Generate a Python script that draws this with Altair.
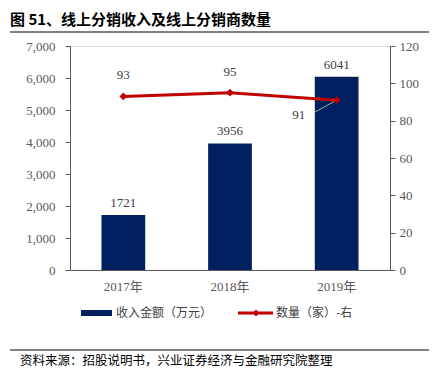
import altair as alt
import pandas as pd

years = ["2017年", "2018年", "2019年"]
revenue = [1721, 3956, 6041]
dealers = [93, 95, 91]

df = pd.DataFrame({"year": years, "revenue": revenue, "dealers": dealers})
one = pd.DataFrame({"k": [0]})

SERIF = "Liberation Serif, Noto Sans CJK SC"
NAVY = "#002060"
RED = "#C00000"
GREY = "#595959"

x = alt.X("year:N", sort=years, title=None,
          scale=alt.Scale(paddingInner=0.59, paddingOuter=0.295),
          axis=alt.Axis(labelAngle=0, ticks=False, domainColor="#595959",
                        labelFont=SERIF, labelFontSize=13, labelColor=GREY,
                        labelPadding=10))
xs = alt.X("year:N", sort=years)

yl_scale = alt.Scale(domain=[0, 7000])
yl = alt.Y("revenue:Q", title=None, scale=yl_scale,
           axis=alt.Axis(values=list(range(0, 7001, 1000)), format=",.0f",
                         grid=False, tickColor="#595959", domainColor="#595959",
                         tickSize=5, labelFont=SERIF, labelFontSize=13,
                         labelColor=GREY, labelPadding=10))

bars = alt.Chart(df).mark_bar(color=NAVY).encode(x=x, y=yl)
bar_lbl = alt.Chart(df).mark_text(dy=-12, font=SERIF, fontSize=13, color="#404040").encode(
    x=xs, y=alt.Y("revenue:Q", scale=yl_scale, axis=None), text="revenue:Q")

yr_scale = alt.Scale(domain=[0, 120])
yr = alt.Y("dealers:Q", title=None, scale=yr_scale,
           axis=alt.Axis(orient="right", values=list(range(0, 121, 20)), grid=False,
                         tickColor="#595959", domainColor="#595959", tickSize=5,
                         labelFont=SERIF, labelFontSize=13, labelColor=GREY,
                         labelPadding=4))
yr_na = alt.Y("dealers:Q", scale=yr_scale, axis=None)
line = alt.Chart(df).mark_line(color=RED, strokeWidth=3,
                               point=alt.OverlayMarkDef(shape="diamond", size=60, color=RED, filled=True)
                               ).encode(x=xs, y=yr)
lbl_top = alt.Chart(df).transform_filter(alt.datum.year != "2019年").mark_text(
    dy=-21, font=SERIF, fontSize=13, color="#404040").encode(x=xs, y=yr_na, text="dealers:Q")
lbl_91 = alt.Chart(df).transform_filter(alt.datum.year == "2019年").mark_text(
    dx=-38, dy=15, font=SERIF, fontSize=13, color="#404040").encode(x=xs, y=yr_na, text="dealers:Q")
leader = alt.Chart(df).transform_filter(alt.datum.year == "2019年").mark_rule(
    color="#A6A6A6", strokeWidth=1).encode(
    x=xs, y=yr_na, x2=alt.value(245), y2=alt.value(66))

# decorations: title, rules, legend, source
title = alt.Chart(one).mark_text(align="left", baseline="alphabetic", font="Noto Sans CJK SC",
                                 fontSize=15, fontWeight="bold", color="#000000").encode(
    x=alt.value(-60), y=alt.value(-21), text=alt.value("图 51、线上分销收入及线上分销商数量"))
title_rule = alt.Chart(one).mark_rule(color="#808080", strokeWidth=2).encode(
    x=alt.value(-60), x2=alt.value(372), y=alt.value(-14))
src_rule = alt.Chart(one).mark_rule(color="#808080", strokeWidth=2).encode(
    x=alt.value(-60), x2=alt.value(372), y=alt.value(304))
source = alt.Chart(one).mark_text(align="left", baseline="middle", font="Noto Sans CJK SC",
                                  fontSize=12.5, color="#000000").encode(
    x=alt.value(-50), y=alt.value(315), text=alt.value("资料来源：招股说明书，兴业证券经济与金融研究院整理"))
leg1 = alt.Chart(one).mark_rule(color=NAVY, strokeWidth=6).encode(
    x=alt.value(11), x2=alt.value(42), y=alt.value(267))
leg1t = alt.Chart(one).mark_text(align="left", baseline="middle", font="Noto Sans CJK SC",
                                 fontSize=12, color="#404040").encode(
    x=alt.value(46), y=alt.value(267), text=alt.value("收入金额（万元）"))
leg2 = alt.Chart(one).mark_rule(color=RED, strokeWidth=3).encode(
    x=alt.value(168), x2=alt.value(203), y=alt.value(267))
leg2p = alt.Chart(one).mark_point(shape="diamond", size=50, color=RED, filled=True, opacity=1).encode(
    x=alt.value(186), y=alt.value(267))
leg2t = alt.Chart(one).mark_text(align="left", baseline="middle", font="Noto Sans CJK SC",
                                 fontSize=12, color="#404040").encode(
    x=alt.value(206), y=alt.value(267), text=alt.value("数量（家）-右"))

chart = alt.layer(bars, bar_lbl, leader, line, lbl_top, lbl_91,
                  title, title_rule, src_rule, source, leg1, leg1t, leg2, leg2p, leg2t
                  ).resolve_scale(y="independent").properties(
    width=320, height=224,
    autosize=alt.AutoSizeParams(type="none"),
    padding={"left": 62, "top": 38, "right": 39, "bottom": 105},
).configure_view(stroke=None).configure(background="white")

chart.save("out.html", embed_options={"renderer": "svg", "actions": False})
